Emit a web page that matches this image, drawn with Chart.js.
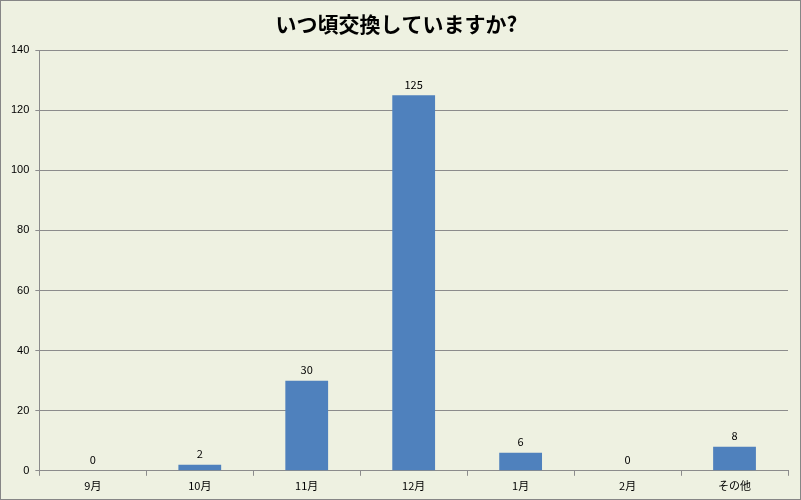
<!DOCTYPE html>
<html><head><meta charset="utf-8">
<script src="https://cdn.jsdelivr.net/npm/chart.js"></script>
<style>
html,body{margin:0;padding:0;background:#fff;}
#wrap{width:799px;height:498px;border:1px solid #868686;background:#EEF1E1;}
</style></head><body>
<div id="wrap"><canvas id="c" width="799" height="498"></canvas></div>
<script>
const categories = ["9月","10月","11月","12月","1月","2月","その他"];
const values = [0,2,30,125,6,0,8];
const titleText = "いつ頃交換していますか?";

const labelPlugin = {
  id:'labels',
  afterDatasetsDraw(chart){
    const ctx = chart.ctx, meta = chart.getDatasetMeta(0);
    ctx.save();
    ctx.font = '11px "Noto Sans CJK JP", sans-serif';
    ctx.fillStyle = '#000';
    ctx.textAlign = 'center';
    ctx.textBaseline = 'bottom';
    meta.data.forEach((bar,i)=>{ ctx.fillText(String(values[i]), bar.x, bar.y - 5); });
    ctx.restore();
  }
};

new Chart(document.getElementById('c'), {
  type:'bar',
  data:{labels:categories, datasets:[{data:values, backgroundColor:'#4F81BD', barPercentage:0.4, categoryPercentage:1}]},
  options:{
    responsive:false, animation:false,
    layout:{padding:{left:4,right:12,top:0,bottom:4}},
    plugins:{
      legend:{display:false}, tooltip:{enabled:false},
      title:{display:true, text:titleText, color:'#000',
        font:{family:'"Noto Sans CJK JP", sans-serif', size:21, weight:'bold'},
        padding:{top:10,bottom:14}}
    },
    scales:{
      y:{min:0,max:140,
        ticks:{stepSize:20,color:'#000',font:{size:11,family:'"Liberation Sans", sans-serif'},padding:6},
        grid:{color:'#8c8c8c',drawTicks:true,tickLength:4},
        border:{color:'#8c8c8c'}},
      x:{ticks:{color:'#000',font:{size:11,family:'"Noto Sans CJK JP", sans-serif'}},
        grid:{offset:true,drawOnChartArea:false,color:'#8c8c8c',tickLength:5},
        border:{color:'#8c8c8c'}}
    }
  },
  plugins:[labelPlugin]
});
</script>
</body></html>
